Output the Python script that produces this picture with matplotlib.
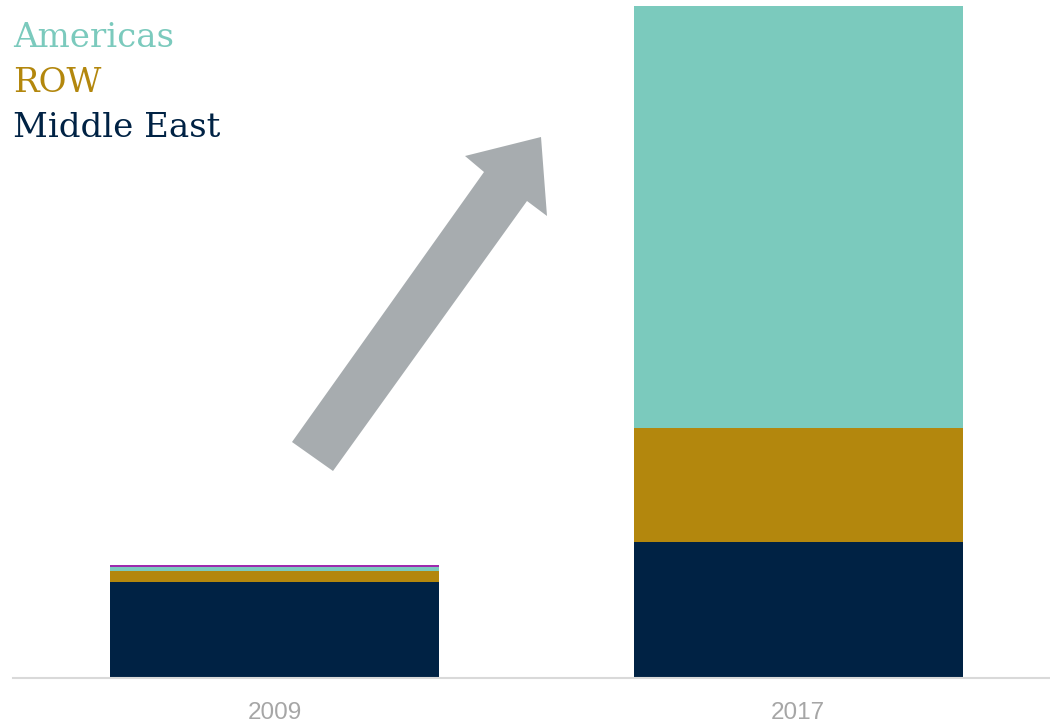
import matplotlib
matplotlib.use("Agg")
import matplotlib.pyplot as plt
from matplotlib.patches import Polygon
from matplotlib import font_manager

years = ["2009", "2017"]
middle_east = [9.57, 13.57]
row = [1.13, 11.46]
americas = [0.37, 42.22]
other = [0.2, 0.0]

series_names = ["Americas", "ROW", "Middle East"]
c_navy = "#002244"
c_gold = "#B3870D"
c_teal = "#7BCABD"
c_purple = "#9E2AAE"
c_arrow = "#A7ACAF"

W, H = 1050, 722
fig = plt.figure(figsize=(W / 100, H / 100), dpi=100)
ax = fig.add_axes([13 / W, (H - 678) / H, (1050 - 13) / W, (678 - 5.5) / H])

x = [0, 1]
width = 0.628
ax.bar(x, middle_east, width=width, color=c_navy)
bottom = [a for a in middle_east]
ax.bar(x, row, width=width, bottom=bottom, color=c_gold)
bottom = [a + b for a, b in zip(bottom, row)]
ax.bar(x, americas, width=width, bottom=bottom, color=c_teal)
bottom = [a + b for a, b in zip(bottom, americas)]
ax.bar(x, other, width=width, bottom=bottom, color=c_purple)

total = max(m + r + a + o for m, r, a, o in zip(middle_east, row, americas, other))
ax.set_ylim(0, total)
ax.set_xlim(-0.4995, 1.481)

for s in ["top", "right", "left"]:
    ax.spines[s].set_visible(False)
ax.spines["bottom"].set_color("#D9D9D9")
ax.spines["bottom"].set_linewidth(1.5)
ax.set_yticks([])
ax.set_xticks(x)

avail = {f.name for f in font_manager.fontManager.ttflist}
tick_font = "Liberation Sans Narrow" if "Liberation Sans Narrow" in avail else "Liberation Sans"
ax.set_xticklabels(years, fontsize=17.5, color="#A6A6A6", family=tick_font)
ax.tick_params(axis="x", length=0, pad=17)

# legend as colored text
leg_colors = [c_teal, c_gold, c_navy]
for i, (name, col) in enumerate(zip(series_names, leg_colors)):
    fig.text(13 / W, 1 - (47 + 45 * i) / H, name, color=col, fontsize=24.5,
             family="DejaVu Serif", va="baseline", ha="left")

# decorative arrow
pts = [(292, 442), (333, 471), (527, 201), (547, 216), (541, 137), (465, 156), (484, 172)]
poly = Polygon([(px / W, 1 - py / H) for px, py in pts], closed=True,
               transform=fig.transFigure, facecolor=c_arrow, edgecolor="none")
fig.patches.append(poly)

fig.savefig("out.png", dpi=100)
